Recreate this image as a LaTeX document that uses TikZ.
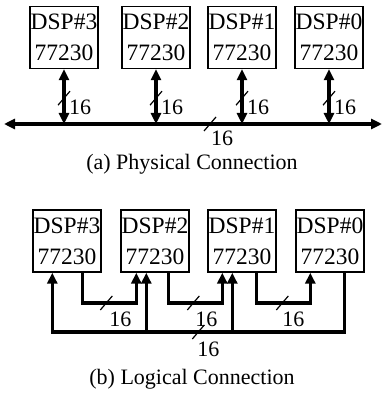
\documentclass[tikz,border=0pt]{standalone}
\usepackage{fontspec}
\setmainfont{Liberation Serif}
\usetikzlibrary{arrows.meta,positioning,calc}
\newcommand{\wslash}[1]{\draw[line width=1.2pt] ($(#1)+(-6,7)$) -- ($(#1)+(6,-7)$);}

\begin{document}
\begin{tikzpicture}[x=1pt,y=-1pt,
  dsp/.style={draw,line width=1.4pt,minimum width=68,minimum height=62,inner sep=0pt,
    align=center,font=\fontsize{23.5}{31}\selectfont},
  wire/.style={line width=3.4pt},
  arr/.style={-{Triangle[length=11pt,width=10pt]}},
  both/.style={{Triangle[length=11pt,width=10pt]}-{Triangle[length=11pt,width=10pt]}},
  lbl/.style={font=\fontsize{22}{24}\selectfont},
  captext/.style={font=\fontsize{22}{24}\selectfont}]
  \useasboundingbox (0,0) rectangle (385,393);
  % (a) physical connection
  \node[dsp] (t3) at (64,37.5) {DSP\#3\\77230};
  \node[dsp] (t2) at (156,37.5) {DSP\#2\\77230};
  \node[dsp] (t1) at (242,37.5) {DSP\#1\\77230};
  \node[dsp] (t0) at (329,37.5) {DSP\#0\\77230};
  \coordinate (busL) at (4,124); \coordinate (busR) at (382,124);
  \draw[wire,both] (busL) -- (busR);
  \foreach \n in {3,2,1,0} {
    \draw[wire,both] (t\n.south) -- (t\n.south |- busL);
    \coordinate (s\n) at ($(t\n.south)+(0,29)$);
    \wslash{s\n}
    \node[lbl] (n\n) at ($(s\n)+(16,9)$) {16};
  }
  \coordinate (sbus) at (210,124); \wslash{sbus}
  \node[lbl] (nbus) at (222,138) {16};
  \node[captext] (capa) at (192,164) {(a) Physical Connection};

  % (b) logical connection
  \node[dsp] (b3) at (67,241) {DSP\#3\\77230};
  \node[dsp] (b2) at (155,241) {DSP\#2\\77230};
  \node[dsp] (b1) at (242,241) {DSP\#1\\77230};
  \node[dsp] (b0) at (330,241) {DSP\#0\\77230};
  \coordinate (o3) at ($(b3.south west)+(50,0)$);
  \coordinate (r3) at ($(b3.south west)+(20,0)$);
  \coordinate (i2) at ($(b2.south west)+(16,0)$);
  \coordinate (r2) at ($(b2.south west)+(26,0)$);
  \coordinate (o2) at ($(b2.south west)+(48,0)$);
  \coordinate (i1) at ($(b1.south west)+(15,0)$);
  \coordinate (r1) at ($(b1.south west)+(25,0)$);
  \coordinate (o1) at ($(b1.south west)+(49,0)$);
  \coordinate (i0) at ($(b0.south west)+(15,0)$);
  \coordinate (o0) at ($(b0.south west)+(49,0)$);
  \coordinate (loop) at (0,303); \coordinate (ring) at (0,332);
  \draw[wire,arr] (o3) -- (o3 |- loop) -- (i2 |- loop) -- (i2);
  \draw[wire,arr] (o2) -- (o2 |- loop) -- (i1 |- loop) -- (i1);
  \draw[wire,arr] (o1) -- (o1 |- loop) -- (i0 |- loop) -- (i0);
  \draw[wire,arr] (o0) -- (o0 |- ring) -- (r3 |- ring) -- (r3);
  \draw[wire,arr] (r2 |- ring) -- (r2);
  \draw[wire,arr] (r1 |- ring) -- (r1);
  \coordinate (l3) at ($(o3 |- loop)!0.5!(i2 |- loop)+(-3,0)$); \wslash{l3}
  \coordinate (l2) at ($(o2 |- loop)!0.5!(i1 |- loop)+(-2,0)$); \wslash{l2}
  \coordinate (l1) at ($(o1 |- loop)!0.5!(i0 |- loop)+(-1,0)$); \wslash{l1}
  \coordinate (lr) at ($(o0 |- ring)!0.5!(r3 |- ring)$); \wslash{lr}
  \node[lbl] (m3) at ($(l3)+(14,16)$) {16};
  \node[lbl] (m2) at ($(l2)+(13,16)$) {16};
  \node[lbl] (m1) at ($(l1)+(11,16)$) {16};
  \node[lbl] (mr) at ($(lr)+(10,17)$) {16};
  \node[captext] (capb) at (192,379) {(b) Logical Connection};
\end{tikzpicture}
\end{document}
